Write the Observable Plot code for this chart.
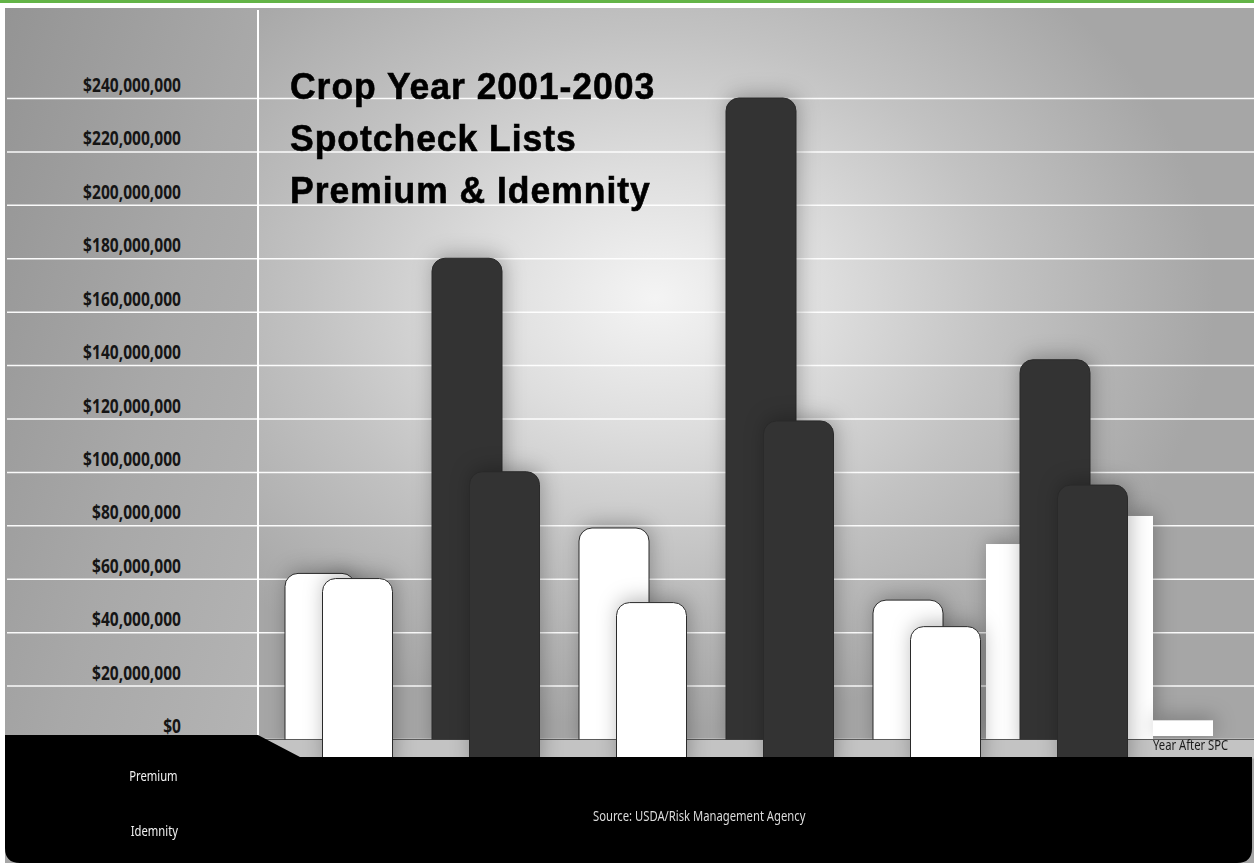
<!DOCTYPE html>
<html>
<head>
<meta charset="utf-8">
<script src="https://cdn.jsdelivr.net/npm/d3@7"></script>
<script src="https://cdn.jsdelivr.net/npm/@observablehq/plot@0.6"></script>
<style>
  html, body { margin: 0; padding: 0; background: #fff; }
  #wrap { position: relative; width: 1254px; height: 863px; overflow: hidden; background: #fff; }
  #green { position: absolute; left: 0; top: 0; width: 1254px; height: 3px; background: #63b447; }
  #bg { position: absolute; left: 5px; top: 8px; right: 0; bottom: 0;
        background: radial-gradient(ellipse 560px 430px at 650px 290px, #f4f4f4 0%, #dedede 30%, #c2c2c2 62%, #a6a6a6 100%); }
  #leftcol { position: absolute; left: 5px; top: 8px; width: 253px; height: 730px;
        background: linear-gradient(105deg, #949494 0%, #a8a8a8 55%, #b4b4b4 100%); }
  #axisline { position: absolute; left: 257px; top: 10px; width: 1.5px; height: 726px; background: #fff; }
  #chart { position: absolute; left: 0; top: 0; }
  #chart g[aria-label="bar"] { filter: drop-shadow(2px -3px 10px rgba(0,0,0,0.28)); }
  /* condensed look for the tick labels: right edge stays at x = 181 */
  #chart g[aria-label="y-axis tick label"] { transform: translate(181px, -12px) scaleX(0.82) translate(-7px, 0px); }
  #floor { position: absolute; left: 0; top: 0; }
  .title { position: absolute; left: 290px; top: 61px; font-family: "Liberation Sans", Arial, sans-serif;
           font-weight: bold; font-size: 37px; line-height: 52px; letter-spacing: 1px; color: #000;
           -webkit-text-stroke: 0.6px #000; white-space: nowrap; transform: scaleX(0.96); transform-origin: left top; }
  .lbl { position: absolute; font-family: "Noto Sans", "Liberation Sans", sans-serif;
         font-size: 15px; white-space: nowrap; transform: scaleX(0.75); }
  .lbl.r { transform-origin: right center; }
  .lbl.l { transform-origin: left center; }
</style>
</head>
<body>
<div id="wrap">
  <div id="green"></div>
  <div id="bg"></div>
  <div id="leftcol"></div>
  <div id="axisline"></div>
  <div id="chart"></div>
  <svg id="floor" width="1254" height="863">
    <path d="M5,735 L258,735 L300,757 L1252,757 L1252,848 Q1252,863 1237,863 L20,863 Q5,863 5,848 Z" fill="#000"/>
  </svg>
  <div class="title">Crop Year 2001-2003<br>Spotcheck Lists<br>Premium &amp; Idemnity</div>
  <div class="lbl r" style="right:1076px; top:765px; color:#f2f2f2;">Premium</div>
  <div class="lbl r" style="right:1076px; top:820px; color:#f2f2f2;">Idemnity</div>
  <div class="lbl l" style="left:593px; top:805px; color:#dcdcdc;">Source: USDA/Risk Management Agency</div>
  <div class="lbl l" style="left:1153px; top:734px; color:#1a1a1a;">Year After SPC</div>
</div>
<script>
// ---- data ----
const groups = ["2001 Spotcheck", "2001 Year After", "2002 Spotcheck", "2002 Year After", "2003 Spotcheck", "2003 Year After"];
const phases = ["Spotcheck Year", "Year After SPC", "Spotcheck Year", "Year After SPC", "Spotcheck Year", "Year After SPC"];
const premium = [62e6, 180e6, 79e6, 240e6, 52e6, 142e6];
const indemnity = [67e6, 107e6, 58e6, 126e6, 49e6, 102e6];
const extraNames = ["left panel", "right panel", "tail"];
const extraValues = [73e6, 83.5e6, 7e6];
const yTicks = [0, 20e6, 40e6, 60e6, 80e6, 100e6, 120e6, 140e6, 160e6, 180e6, 200e6, 220e6, 240e6];

const backRows = groups.map((g, i) => ({group: g, phase: phases[i], value: premium[i]}));
const frontRows = groups.map((g, i) => ({group: g, phase: phases[i], value: indemnity[i]}));
const lastGroup = groups[groups.length - 1];
const extra = extraNames.map((n, i) => ({group: lastGroup, name: n, value: extraValues[i]}));

const condensed = "'Noto Sans', 'Liberation Sans', sans-serif";

const chart = Plot.plot({
  width: 1254,
  height: 863,
  marginTop: 98,
  marginBottom: 124,
  marginLeft: 7,
  marginRight: 0,
  style: {background: "transparent", overflow: "visible"},
  x: {type: "band", domain: groups, range: [283.5, 1091.1], paddingInner: 0.525, paddingOuter: 0, axis: null},
  y: {domain: [0, 240e6], axis: null, label: null},
  color: {domain: ["Spotcheck Year", "Year After SPC"], range: ["#ffffff", "#333333"]},
  marks: [
    Plot.gridY(yTicks, {stroke: "#ffffff", strokeOpacity: 0.95, strokeWidth: 1.5}),
    Plot.axisY(yTicks, {
      anchor: "left", tickSize: 0, tickPadding: 0, dx: 174, dy: -12, label: null,
      tickFormat: d3.format("$,"), fontSize: 19, fontWeight: "bold", fontFamily: condensed, fill: "#151515"
    }),
    // flat white panels next to the last group
    Plot.barY(extra.filter(d => d.name === "left panel"), {x: "group", y: "value", fill: "#ffffff", dx: -70, insetLeft: 36}),
    Plot.barY(extra.filter(d => d.name === "right panel"), {x: "group", y: "value", fill: "#ffffff", dx: 105, insetRight: 42}),
    Plot.barY(extra.filter(d => d.name === "tail"), {x: "group", y: "value", fill: "#ffffff", dx: 133, insetRight: 10, insetBottom: 3}),
    // back row: premium
    Plot.barY(backRows, {x: "group", y: "value", fill: "phase", stroke: "#2a2a2a", strokeWidth: 1, rx: 13, insetBottom: -16}),
    // step between rows
    Plot.ruleY([0], {stroke: "#c3c3c3", strokeWidth: 19, dy: 9.5}),
    Plot.ruleY([0], {stroke: "#222", strokeWidth: 1, strokeOpacity: 0.7}),
    // front row: indemnity
    Plot.barY(frontRows, {x: "group", y: "value", fill: "phase", stroke: "#2a2a2a", strokeWidth: 1, rx: 13, dx: 37.5, dy: 18.5, insetBottom: -16})
  ]
});
document.getElementById("chart").appendChild(chart);
</script>
</body>
</html>
